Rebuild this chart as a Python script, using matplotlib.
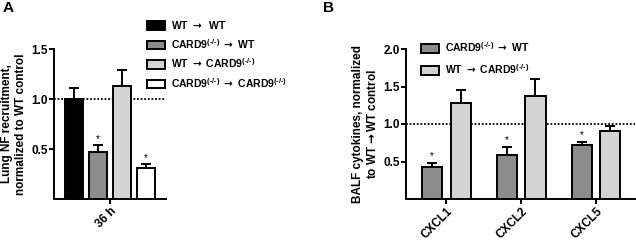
import numpy as np
import matplotlib
matplotlib.use("Agg")
import matplotlib.pyplot as plt
from matplotlib.patches import Patch

plt.rcParams['font.family'] = ['Liberation Sans', 'DejaVu Sans']
plt.rcParams['font.weight'] = 'bold'
plt.rcParams['mathtext.fontset'] = 'custom'
plt.rcParams['mathtext.rm'] = 'Liberation Sans:bold'
plt.rcParams['mathtext.bf'] = 'Liberation Sans:bold'
plt.rcParams['mathtext.sf'] = 'DejaVu Sans'
plt.rcParams['mathtext.default'] = 'bf'

KO = r'CARD9$^{\text{(-/-)}}$'
ARR = r'$\mathsf{\rightarrow}$'

# panel A data
a_labels = ['WT ' + ARR + '  WT', KO + ' ' + ARR + ' WT', 'WT ' + ARR + ' ' + KO,
            KO + ' ' + ARR + ' ' + KO]
a_values = [1.0, 0.475, 1.13, 0.31]
a_err = [0.11, 0.065, 0.16, 0.04]
a_colors = ['#000000', '#8c8c8c', '#d3d3d3', '#ffffff']
a_star = [False, True, False, True]
a_tick = ['36 h']

# panel B data
b_groups = ['CXCL1', 'CXCL2', 'CXCL5']
b_ko_wt = [0.43, 0.585, 0.72]
b_ko_wt_err = [0.055, 0.115, 0.045]
b_wt_ko = [1.285, 1.375, 0.905]
b_wt_ko_err = [0.175, 0.225, 0.065]
b_labels = [KO + ' ' + ARR + ' WT', 'WT ' + ARR + ' ' + KO]
b_colors = ['#8c8c8c', '#d3d3d3']

fig = plt.figure(figsize=(6.36, 2.41), dpi=100)
axA = fig.add_axes([54/636, 1-199/241, 112/636, 150/241])
axB = fig.add_axes([406/636, 1-199/241, 229/636, 150/241])

lw = 1.4
for ax in (axA, axB):
    ax.spines['top'].set_visible(False)
    ax.spines['right'].set_visible(False)
    ax.spines['left'].set_linewidth(lw)
    ax.spines['bottom'].set_linewidth(lw)
    ax.tick_params(width=lw, length=3.5, labelsize=8.5, pad=1)

# ---- panel A
xa = np.array([-1.5, -0.5, 0.5, 1.5])
axA.axhline(1.0, color='black', ls=(0, (1, 1)), lw=1.3, zorder=0)
for i in range(4):
    axA.bar(xa[i], a_values[i], width=0.72, color=a_colors[i], edgecolor='black',
            linewidth=lw, zorder=2)
    axA.errorbar(xa[i], a_values[i], yerr=[[0], [a_err[i]]], color='black',
                 capsize=3.5, elinewidth=lw, capthick=lw, zorder=1)
    if a_star[i]:
        axA.annotate('*', (xa[i], a_values[i] + a_err[i]), xytext=(0, 1),
                     textcoords='offset points', ha='center', va='bottom',
                     fontsize=7, fontweight='normal')
axA.set_xlim(-2.33, 2.33)
axA.set_ylim(0, 1.5)
axA.set_yticks([0.5, 1.0, 1.5])
axA.set_xticks([0])
axA.set_xticklabels(a_tick, rotation=45, ha='right', rotation_mode='anchor')
axA.set_ylabel('Lung NF recruitment,\nnormalized to WT control', fontsize=8.5,
               fontweight='bold', labelpad=3)
handles = [Patch(facecolor=c, edgecolor='black', linewidth=lw) for c in a_colors]
fig.legend(handles, a_labels, loc='upper left', bbox_to_anchor=(147/636, 1-19/241),
           frameon=False, fontsize=7.5, handlelength=1.7, handleheight=0.9,
           handletextpad=0.6, labelspacing=0.55, borderpad=0, borderaxespad=0)
fig.text(3/636, 1-1/241, 'A', fontsize=11, fontweight='bold', va='top')

# ---- panel B
xb = np.arange(len(b_groups))
off = 0.19
axB.axhline(1.0, color='black', ls=(0, (1, 1)), lw=1.3, zorder=0)
for vals, errs, c, sgn, star in [(b_ko_wt, b_ko_wt_err, b_colors[0], -1, True),
                                  (b_wt_ko, b_wt_ko_err, b_colors[1], 1, False)]:
    axB.bar(xb + sgn*off, vals, width=0.27, color=c, edgecolor='black', linewidth=lw, zorder=2)
    axB.errorbar(xb + sgn*off, vals, yerr=[np.zeros(3), errs], fmt='none', ecolor='black',
                 capsize=3.5, elinewidth=lw, capthick=lw, zorder=1)
    if star:
        for x, v, e in zip(xb + sgn*off, vals, errs):
            axB.annotate('*', (x, v + e), xytext=(0, 1), textcoords='offset points',
                         ha='center', va='bottom', fontsize=7, fontweight='normal')
axB.set_xlim(-0.54, 2.52)
axB.set_ylim(0, 2.0)
axB.set_yticks([0.5, 1.0, 1.5, 2.0])
axB.set_xticks(xb)
axB.set_xticklabels(b_groups, rotation=45, ha='right', rotation_mode='anchor')
axB.set_ylabel('BALF cytokines, normalized\nto WT' + ARR + 'WT control', fontsize=8.5,
               fontweight='bold', labelpad=3)
handles = [Patch(facecolor=c, edgecolor='black', linewidth=lw) for c in b_colors]
axB.legend(handles, b_labels, loc='upper left', bbox_to_anchor=(421/636, 1-40/241),
           bbox_transform=fig.transFigure, frameon=False, fontsize=7.5, handlelength=1.7,
           handleheight=0.9, handletextpad=0.6, labelspacing=0.8, borderpad=0,
           borderaxespad=0)
fig.text(323/636, 1-1/241, 'B', fontsize=11, fontweight='bold', va='top')

fig.savefig('out.png', dpi=100)
